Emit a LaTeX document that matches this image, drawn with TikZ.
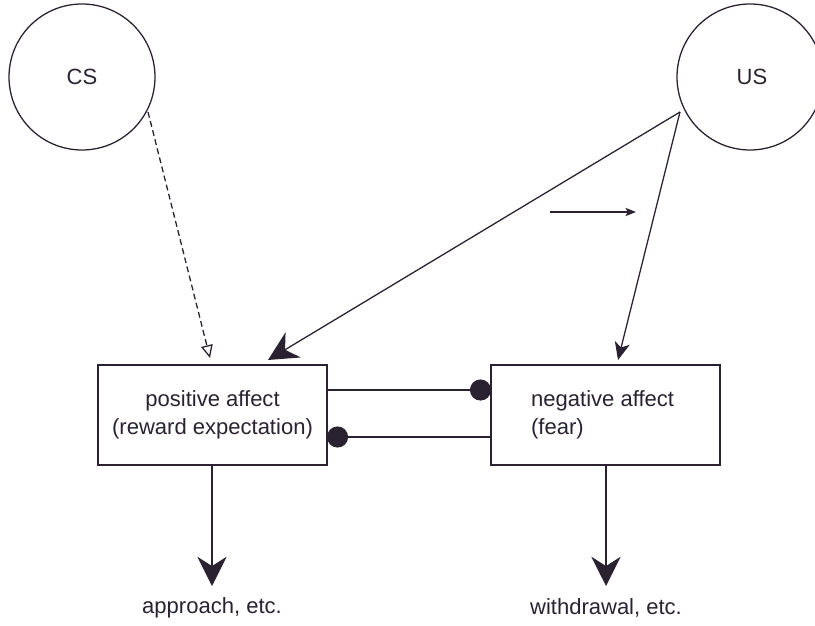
\documentclass[tikz,border=0pt]{standalone}
\usepackage{fontspec}
\setmainfont{Liberation Sans}
\usetikzlibrary{arrows.meta}
\definecolor{ink}{HTML}{2A2230}
\begin{document}
\begin{tikzpicture}[x=0.03cm,y=-0.03cm,
  every node/.style={text=ink,font=\fontsize{18.8}{24}\selectfont},
  ln/.style={draw=ink,line width=1.1pt},
  bigtip/.style={ln,-{Stealth[length=25pt,width=25pt,inset=8pt]}},
  midtip/.style={ln,-{Stealth[length=15pt,width=13pt,inset=4pt]}},
  smalltip/.style={ln,-{Stealth[length=9pt,width=7pt,inset=2pt]}},
  opentip/.style={ln,dashed,dash pattern=on 5pt off 3pt,-{Triangle[open,length=11pt,width=10pt]}},
  blob/.style={ln,-{Circle[length=18pt]}},
  stim/.style={circle,draw=ink,line width=1.1pt,minimum size={146*0.03cm}},
  affbox/.style={draw=ink,line width=1.1pt,minimum width={229*0.03cm},minimum height={100*0.03cm}}]
\useasboundingbox (0,0) rectangle (815,626);
\node[stim] (cs) at (82,77) {CS};
\node[stim] (us) at (750,77) {};
\node (uslbl) at (752,77) {US};
\node[affbox] (pos) at (212.5,415) {};
\node[align=center] (postxt) at (212.5,415) {positive affect\\(reward expectation)};
\node[affbox] (neg) at (605.5,415) {};
\node[align=left,anchor=west] (negtxt) at (527,415) {negative affect\\(fear)};
\node (app) at (212,608) {approach, etc.};
\node (wd) at (606,608) {withdrawal, etc.};
% connector anchors
\coordinate (csout) at (148,112);
\coordinate (csin) at (210,358);
\coordinate (usout) at (680,112);
\coordinate (posin) at (268,360);
\coordinate (negin) at (618,360);
\coordinate (sa) at (550,212);
\coordinate (sb) at (636,212);
\coordinate (p1) at (327,390);
\coordinate (n1) at (491,390);
\coordinate (n2) at (491,437);
\coordinate (p2) at (327,437);
\coordinate (pd) at (212,465);
\coordinate (pe) at (212,586);
\coordinate (nd) at (606,465);
\coordinate (ne) at (606,586);
\draw[opentip] (csout) -- (csin);
\draw[bigtip] (usout) -- (posin);
\draw[midtip] (usout) -- (negin);
\draw[smalltip] (sa) -- (sb);
\draw[blob] (p1) -- (n1);
\draw[blob] (n2) -- (p2);
\draw[bigtip] (pd) -- (pe);
\draw[bigtip] (nd) -- (ne);
\end{tikzpicture}
\end{document}
